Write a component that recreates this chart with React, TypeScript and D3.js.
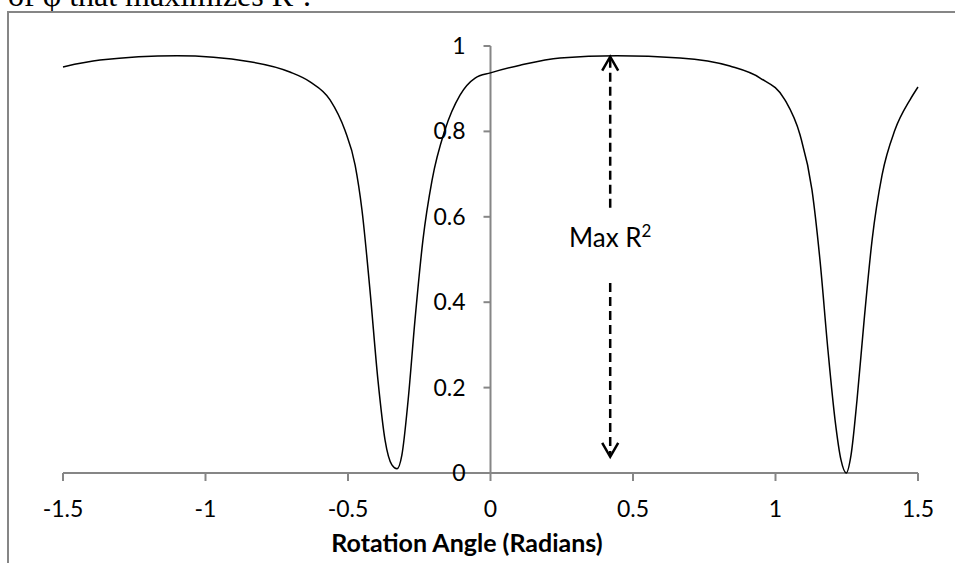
import { useEffect, useRef } from "react"
import * as d3 from "d3"

// rotation angle (radians) and R²
const angles = [
  -1.5, -1.37, -1.1, -0.844, -0.704, -0.633, -0.563, -0.511, -0.475, -0.451,
  -0.423, -0.395, -0.37, -0.346, -0.328, -0.311, -0.289, -0.265, -0.237,
  -0.205, -0.16, -0.107, -0.054, 0, 0.104, 0.244, 0.444, 0.665, 0.84, 0.946,
  1.033, 1.086, 1.128, 1.156, 1.184, 1.209, 1.23, 1.248, 1.265, 1.286, 1.311,
  1.339, 1.374, 1.419, 1.472, 1.5,
]
const r2 = [
  0.951, 0.967, 0.977, 0.963, 0.939, 0.916, 0.874, 0.803, 0.721, 0.616,
  0.429, 0.218, 0.077, 0.019, 0.01, 0.042, 0.171, 0.358, 0.546,
  0.686, 0.803, 0.885, 0.925, 0.937, 0.955, 0.972, 0.977, 0.972, 0.953, 0.925,
  0.874, 0.792, 0.663, 0.499, 0.288, 0.124, 0.03, 0.0, 0.042, 0.171, 0.358,
  0.546, 0.698, 0.803, 0.874, 0.904,
]

const xTicks = [-1.5, -1, -0.5, 0, 0.5, 1, 1.5]
const yTicks = [0, 0.2, 0.4, 0.6, 0.8, 1]

// "Max R²" annotation, in data units
const arrowX = 0.42
const arrowTop = 0.975
const arrowBottom = 0.038
const gapTop = 0.611
const gapBottom = 0.445
const labelY = 0.53

export default function App() {
  const svgRef = useRef<SVGSVGElement | null>(null)

  useEffect(() => {
    if (!svgRef.current) return
    const width = 955
    const height = 563
    const svg = d3.select(svgRef.current).attr("width", width).attr("height", height)
    svg.selectAll("*").remove()

    const font = "Lato, 'Open Sans', sans-serif"
    const axisColor = "#868686"

    const x = d3.scaleLinear().domain([-1.5, 1.5]).range([63, 918])
    const y = d3.scaleLinear().domain([0, 1]).range([473, 46])

    // text above the chart (from surrounding document, cut off at the top)
    const top = svg.append("text")
      .attr("x", 8).attr("y", 6)
      .attr("font-family", "'Liberation Serif', serif")
      .attr("font-size", 32)
      .text("of φ that maximizes R")
    top.append("tspan").attr("font-size", 20).attr("dy", -12).text("2")
    top.append("tspan").attr("dy", 12).text(".")

    // chart border
    svg.append("rect")
      .attr("x", 8).attr("y", 12)
      .attr("width", 1000).attr("height", 600)
      .attr("fill", "white")
      .attr("stroke", axisColor).attr("stroke-width", 2)

    // x axis
    const xa = svg.append("g").attr("transform", `translate(0,${y(0)})`)
    xa.append("line").attr("x1", x(-1.5)).attr("x2", x(1.5))
      .attr("stroke", axisColor).attr("stroke-width", 2)
    xa.selectAll("line.tick").data(xTicks).join("line")
      .attr("class", "tick")
      .attr("x1", d => x(d)).attr("x2", d => x(d))
      .attr("y1", 0).attr("y2", 8)
      .attr("stroke", axisColor).attr("stroke-width", 2)
    xa.selectAll("text").data(xTicks).join("text")
      .attr("x", d => x(d)).attr("y", 44)
      .attr("text-anchor", "middle")
      .attr("font-family", font).attr("font-size", 23)
      .text(d => String(d))

    // y axis
    const ya = svg.append("g").attr("transform", `translate(${x(0)},0)`)
    ya.append("line").attr("y1", y(0)).attr("y2", y(1))
      .attr("stroke", axisColor).attr("stroke-width", 2)
    ya.selectAll("line.tick").data(yTicks).join("line")
      .attr("class", "tick")
      .attr("y1", d => y(d)).attr("y2", d => y(d))
      .attr("x1", -7).attr("x2", 0)
      .attr("stroke", axisColor).attr("stroke-width", 2)
    ya.selectAll("text").data(yTicks).join("text")
      .attr("x", -25).attr("y", d => y(d))
      .attr("dy", "0.35em")
      .attr("text-anchor", "end")
      .attr("font-family", font).attr("font-size", 23)
      .text(d => String(d))

    // axis title
    svg.append("text")
      .attr("x", 467).attr("y", 552)
      .attr("text-anchor", "middle")
      .attr("font-family", font).attr("font-size", 25).attr("font-weight", "bold")
      .text("Rotation Angle (Radians)")

    // curve
    const pts = angles.map((a, i) => [a, r2[i]] as [number, number])
    const line = d3.line<[number, number]>()
      .x(d => x(d[0]))
      .y(d => y(d[1]))
      .curve(d3.curveMonotoneX)
    svg.append("path")
      .datum(pts)
      .attr("fill", "none")
      .attr("stroke", "black")
      .attr("stroke-width", 1.5)
      .attr("d", line)

    // Max R² annotation
    const ax = x(arrowX)
    const dash = svg.append("g")
      .attr("stroke", "black").attr("stroke-width", 2.5).attr("fill", "none")
    dash.append("line")
      .attr("x1", ax).attr("x2", ax)
      .attr("y1", y(arrowTop) + 2).attr("y2", y(gapTop))
      .attr("stroke-dasharray", "9,5")
    dash.append("line")
      .attr("x1", ax).attr("x2", ax)
      .attr("y1", y(gapBottom)).attr("y2", y(arrowBottom) - 2)
      .attr("stroke-dasharray", "9,5")
    dash.append("path")
      .attr("d", `M${ax - 8},${y(arrowTop) + 14}L${ax},${y(arrowTop)}L${ax + 8},${y(arrowTop) + 14}`)
    dash.append("path")
      .attr("d", `M${ax - 8},${y(arrowBottom) - 14}L${ax},${y(arrowBottom)}L${ax + 8},${y(arrowBottom) - 14}`)

    const lbl = svg.append("text")
      .attr("x", ax).attr("y", y(labelY))
      .attr("text-anchor", "middle")
      .attr("font-family", font).attr("font-size", 26)
      .text("Max R")
    lbl.append("tspan").attr("font-size", 17).attr("dy", -10).text("2")
  }, [])

  return (
    <div style={{ position: "absolute", left: 0, top: 0 }}>
      <svg ref={svgRef} style={{ display: "block" }} />
    </div>
  )
}
